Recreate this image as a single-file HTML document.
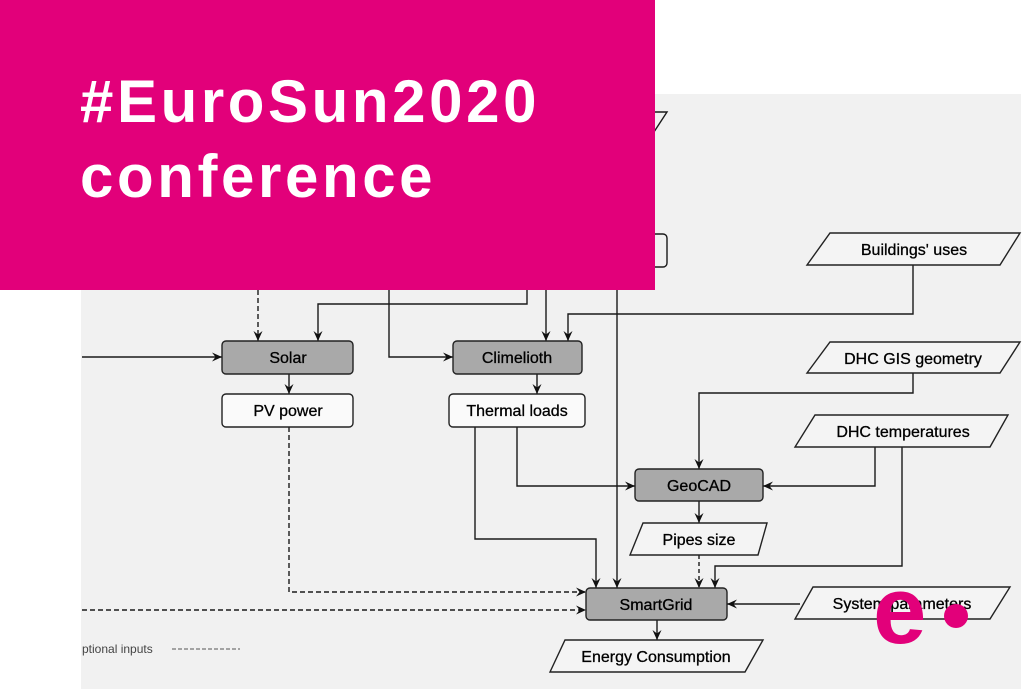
<!DOCTYPE html>
<html><head><meta charset="utf-8"><style>
html,body{margin:0;padding:0;background:#fff;}
svg{display:block}
</style></head><body>
<svg width="1024" height="689" viewBox="0 0 1024 689" xmlns="http://www.w3.org/2000/svg" font-family="Liberation Sans, sans-serif">
<defs>
<marker id="a" markerWidth="12" markerHeight="12" refX="10" refY="6" orient="auto" markerUnits="userSpaceOnUse">
<path d="M0,1.5 L10,6 L0,10.5 L3.5,6 Z" fill="#111"/>
</marker>
</defs>
<rect x="81" y="94" width="940" height="595" fill="#f1f1f1"/>
<g fill="none" stroke="#1a1a1a" stroke-width="1.4">
<path d="M640,112 L667,112 L652,135"/>
<rect x="600" y="234" width="67" height="33" rx="4"/>
<path d="M258,290 L258,341" stroke-dasharray="5,3" marker-end="url(#a)"/>
<path d="M527,290 L527,304 L318,304 L318,341" marker-end="url(#a)"/>
<path d="M82,357 L222,357" marker-end="url(#a)"/>
<path d="M389,290 L389,357 L453,357" marker-end="url(#a)"/>
<path d="M546,290 L546,341" marker-end="url(#a)"/>
<path d="M913,265 L913,314 L568,314 L568,341" marker-end="url(#a)"/>
<path d="M617,290 L617,588" marker-end="url(#a)"/>
<path d="M289,374 L289,394" marker-end="url(#a)"/>
<path d="M537,374 L537,394" marker-end="url(#a)"/>
<path d="M913,373 L913,393 L699,393 L699,469" marker-end="url(#a)"/>
<path d="M875,447 L875,486 L763,486" marker-end="url(#a)"/>
<path d="M902,447 L902,566 L715,566 L715,588" marker-end="url(#a)"/>
<path d="M517,427 L517,486 L635,486" marker-end="url(#a)"/>
<path d="M475,427 L475,539 L596,539 L596,588" marker-end="url(#a)"/>
<path d="M699,501 L699,523" marker-end="url(#a)"/>
<path d="M699,555 L699,588" stroke-dasharray="4,3" marker-end="url(#a)"/>
<path d="M289,427 L289,592 L586,592" stroke-dasharray="5,3" marker-end="url(#a)"/>
<path d="M82,610 L586,610" stroke-dasharray="5,3" marker-end="url(#a)"/>
<path d="M800,604 L727,604" marker-end="url(#a)"/>
<path d="M657,620 L657,640" marker-end="url(#a)"/>
<path d="M172,649 L240,649" stroke-dasharray="4,2" stroke="#555" stroke-width="1"/>
</g>
<g stroke="#222" stroke-width="1.4">
<rect x="222" y="341" width="131" height="33" rx="4" fill="#a9a9a9"/>
<rect x="453" y="341" width="129" height="33" rx="4" fill="#a9a9a9"/>
<rect x="635" y="469" width="128" height="32" rx="4" fill="#a9a9a9"/>
<rect x="586" y="588" width="141" height="32" rx="4" fill="#a9a9a9"/>
<rect x="222" y="394" width="131" height="33" rx="4" fill="#fafafa"/>
<rect x="449" y="394" width="136" height="33" rx="4" fill="#fafafa"/>
<path d="M830,233 L1020,233 L1000,265 L807,265 Z" fill="#f4f4f4"/>
<path d="M830,342 L1020,342 L1000,373 L807,373 Z" fill="#f4f4f4"/>
<path d="M815,415 L1008,415 L990,447 L795,447 Z" fill="#f4f4f4"/>
<path d="M643,523 L767,523 L758,555 L630,555 Z" fill="#f4f4f4"/>
<path d="M813,587 L1010,587 L990,619 L795,619 Z" fill="#f4f4f4"/>
<path d="M565,640 L763,640 L745,672 L550,672 Z" fill="#f4f4f4"/>
</g>
<g font-size="16" fill="#000" text-anchor="middle" stroke="#000" stroke-width="0.3">
<text x="288" y="363">Solar</text>
<text x="517" y="363">Climelioth</text>
<text x="699" y="491">GeoCAD</text>
<text x="656" y="610">SmartGrid</text>
<text x="288" y="416">PV power</text>
<text x="517" y="416">Thermal loads</text>
<text x="914" y="255">Buildings' uses</text>
<text x="913" y="364">DHC  GIS geometry</text>
<text x="903" y="437">DHC temperatures</text>
<text x="699" y="545">Pipes size</text>
<text x="902" y="609">System parameters</text>
<text x="656" y="662">Energy Consumption</text>
</g>
<text x="82" y="653" font-size="12" fill="#444">ptional inputs</text>
<rect x="0" y="0" width="655" height="290" fill="#e2007a"/>
<g fill="#fff" font-weight="bold" font-size="60">
<text x="80" y="122" letter-spacing="3.6">#EuroSun2020</text>
<text x="80" y="197" letter-spacing="3.6">conference</text>
</g>
<text x="873" y="643" font-size="96" font-weight="bold" fill="#e2007a">e</text>
<circle cx="956" cy="616" r="12" fill="#e2007a"/>
</svg>
</body></html>
